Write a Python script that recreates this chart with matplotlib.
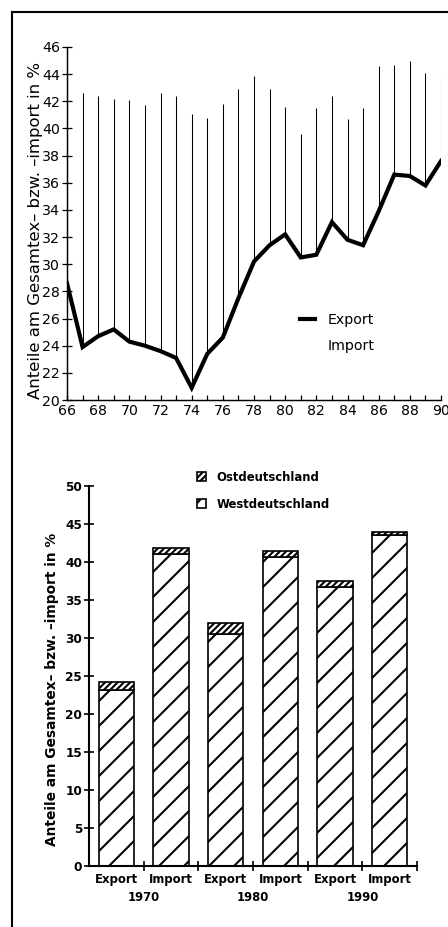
import matplotlib
matplotlib.use('Agg')
import matplotlib.pyplot as plt
from matplotlib.lines import Line2D
from matplotlib.patches import Patch
import numpy as np

# data
years = list(range(66, 91))
export_share = [28.6, 23.9, 24.7, 25.2, 24.3, 24.0, 23.6, 23.1, 20.9, 23.4, 24.6, 27.5, 30.2,
                31.4, 32.2, 30.5, 30.7, 33.1, 31.8, 31.4, 33.9, 36.6, 36.5, 35.8, 37.6]
import_share = [43.4, 42.6, 42.4, 42.2, 42.1, 41.7, 42.6, 42.4, 41.1, 40.8, 41.8, 42.9, 43.9,
                42.9, 41.6, 39.6, 41.5, 42.4, 40.7, 41.5, 44.6, 44.7, 45.0, 44.1, 44.0]

bar_labels = ['Export', 'Import', 'Export', 'Import', 'Export', 'Import']
bar_years = ['1970', '1980', '1990']
west = [23.2, 41.0, 30.5, 40.6, 36.7, 43.5]
east = [1.0, 0.9, 1.4, 0.85, 0.8, 0.4]

ylabel = 'Anteile am Gesamtex\u2013 bzw. \u2013import in %'

plt.rcParams['font.family'] = ['DejaVu Sans']
plt.rcParams['hatch.linewidth'] = 1.0

dpi = 150
fig = plt.figure(figsize=(448 / dpi, 927 / dpi), dpi=dpi)

# page frame lines
fig.add_artist(Line2D([12 / 448, 12 / 448], [0, 1 - 12 / 927], transform=fig.transFigure, color='k', lw=1.0))
fig.add_artist(Line2D([12 / 448, 1], [1 - 12 / 927, 1 - 12 / 927], transform=fig.transFigure, color='k', lw=1.0))

######## top panel: line chart ########
ax = fig.add_axes([67 / 448, 1 - 400 / 927, (441 - 67) / 448, (400 - 47) / 927])
ax.vlines(years, export_share, import_share, color='k', linewidth=0.5)
ax.plot(years, export_share, color='k', linewidth=2.0, solid_joinstyle='miter')
ax.set_xlim(66, 90)
ax.set_ylim(20, 46)
ax.set_xticks(range(66, 91, 2))
ax.set_xticks(years, minor=True)
ax.set_yticks(range(20, 47, 2))
ax.tick_params(axis='x', which='both', direction='in', length=2.5, width=0.6, labelsize=6.8, pad=2)
ax.tick_params(axis='y', direction='inout', length=4.5, width=0.6, labelsize=6.8, pad=1)
for s in ['top', 'right']:
    ax.spines[s].set_visible(False)
for s in ['left', 'bottom']:
    ax.spines[s].set_linewidth(0.7)
ax.set_ylabel(ylabel, fontsize=7.9)
ax.yaxis.set_label_coords(-0.064, 0.48)
handles = [Line2D([], [], color='k', lw=2.0), Line2D([], [], color='none')]
ax.legend(handles, ['Export', 'Import'], loc='center left', bbox_to_anchor=(0.59, 0.19),
          frameon=False, fontsize=6.8, handlelength=1.0, handletextpad=0.9, labelspacing=0.9)

######## bottom panel: stacked bars ########
ax2 = fig.add_axes([89 / 448, 1 - 865.7 / 927, (417 - 89) / 448, (865.7 - 486) / 927])
x = np.arange(len(west))
ax2.bar(x, west, width=0.65, color='white', edgecolor='k', linewidth=0.8, hatch='//')
ax2.bar(x, east, width=0.65, bottom=west, color='white', edgecolor='k', linewidth=0.8, hatch='////////')
ax2.set_xlim(-0.5, 5.5)
ax2.set_ylim(0, 50)
ax2.set_yticks(range(0, 51, 5))
ax2.set_xticks(np.arange(0.5, 6, 1))
ax2.set_xticklabels([])
ax2.set_xticks(x, minor=True)
ax2.set_xticklabels(bar_labels, minor=True, fontweight='bold', fontsize=5.6)
ax2.tick_params(axis='x', which='major', direction='inout', length=4.5, width=0.8)
ax2.tick_params(axis='x', which='minor', length=0, pad=3.5)
ax2.tick_params(axis='y', direction='inout', length=4.5, width=0.8, labelsize=5.8, pad=1)
for lab in ax2.get_yticklabels():
    lab.set_fontweight('bold')
for s in ['top', 'right']:
    ax2.spines[s].set_visible(False)
for s in ['left', 'bottom']:
    ax2.spines[s].set_linewidth(1.0)
for i, yr in enumerate(bar_years):
    ax2.text(2 * i + 0.5, -0.083, yr, transform=ax2.get_xaxis_transform(), ha='center', va='center',
             fontsize=5.6, fontweight='bold')
ax2.set_ylabel(ylabel, fontsize=6.6, fontweight='bold')
ax2.yaxis.set_label_coords(-0.09, 0.465)
leg_handles = [Patch(facecolor='white', edgecolor='k', hatch='////////', linewidth=0.8),
               Patch(facecolor='white', edgecolor='k', hatch='///', linewidth=0.8)]
leg = ax2.legend(leg_handles, ['Ostdeutschland', 'Westdeutschland'], loc='upper left',
                 bbox_to_anchor=(0.297, 1.068), frameon=False, handlelength=0.8, handleheight=0.8,
                 handletextpad=0.9, labelspacing=1.2, prop={'weight': 'bold', 'size': 5.6})

fig.savefig('out.png', dpi=dpi)
